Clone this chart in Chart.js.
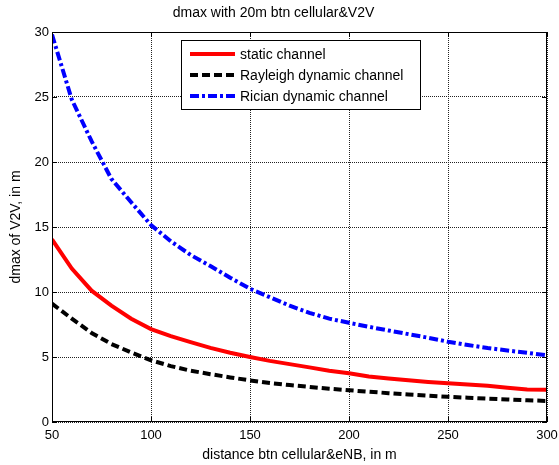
<!DOCTYPE html>
<html>
<head>
<meta charset="utf-8">
<script src="https://cdn.jsdelivr.net/npm/chart.js@4.4.0/dist/chart.umd.min.js"></script>
<style>
  html, body { margin: 0; padding: 0; background: #fff; }
  #wrap { width: 559px; height: 465px; }
</style>
</head>
<body>
<div id="wrap"><canvas id="c" width="559" height="465"></canvas></div>
<script>
// ---- data ----
const distances = [50, 60, 70, 80, 90, 100, 110, 120, 130, 140, 150, 160, 170, 180, 190, 200, 210, 220, 230, 240, 250, 260, 270, 280, 290, 300];
const staticChannel = [14.05, 11.8, 10.1, 8.95, 7.95, 7.15, 6.6, 6.15, 5.7, 5.33, 5.0, 4.7, 4.45, 4.2, 3.95, 3.75, 3.5, 3.34, 3.21, 3.08, 2.98, 2.88, 2.78, 2.63, 2.5, 2.48];
const rayleighChannel = [9.1, 7.95, 6.85, 6.0, 5.35, 4.75, 4.3, 3.95, 3.68, 3.43, 3.2, 3.0, 2.84, 2.7, 2.56, 2.44, 2.33, 2.22, 2.12, 2.03, 1.94, 1.87, 1.8, 1.73, 1.67, 1.62];
const ricianChannel = [29.8, 24.8, 21.6, 18.7, 16.9, 15.15, 13.9, 12.85, 12.0, 11.1, 10.25, 9.6, 8.95, 8.4, 7.95, 7.63, 7.32, 7.04, 6.76, 6.48, 6.18, 5.92, 5.69, 5.5, 5.32, 5.13];
const seriesNames = ['static channel', 'Rayleigh dynamic channel', 'Rician dynamic channel'];
const xTicks = [50, 100, 150, 200, 250, 300];
const yTicks = [0, 5, 10, 15, 20, 25, 30];
const titleText = 'dmax with 20m btn cellular&V2V';
const xTitle = 'distance btn cellular&eNB, in m';
const yTitle = 'dmax of V2V, in m';

const FONT = '"Liberation Sans", Arial, sans-serif';

function pts(ys) { return distances.map((x, i) => ({ x: x, y: ys[i] })); }

const styles = [
  { color: '#ff0000', dash: [] },
  { color: '#000000', dash: [8, 4] },
  { color: '#0000ff', dash: [9, 3, 3, 3] }
];

const boxPlugin = {
  id: 'matlabBox',
  afterDatasetsDraw(chart) {
    const { ctx, chartArea: a, scales } = chart;
    ctx.save();
    ctx.strokeStyle = '#000';
    ctx.lineWidth = 1;
    ctx.setLineDash([]);
    // inward ticks
    const tl = 5;
    ctx.beginPath();
    xTicks.forEach(v => {
      const px = Math.round(scales.x.getPixelForValue(v)) + 0.5;
      ctx.moveTo(px, a.bottom); ctx.lineTo(px, a.bottom - tl);
      ctx.moveTo(px, a.top); ctx.lineTo(px, a.top + tl);
    });
    yTicks.forEach(v => {
      const py = Math.round(scales.y.getPixelForValue(v)) + 0.5;
      ctx.moveTo(a.left, py); ctx.lineTo(a.left + tl, py);
      ctx.moveTo(a.right, py); ctx.lineTo(a.right - tl, py);
    });
    ctx.stroke();
    ctx.strokeRect(Math.round(a.left) + 0.5, Math.round(a.top) + 0.5, Math.round(a.right - a.left) - 1, Math.round(a.bottom - a.top) - 1);

    // legend
    const lx = 181.5, ly = 40.5, lw = 239, lh = 69;
    ctx.fillStyle = '#fff';
    ctx.fillRect(lx, ly, lw, lh);
    ctx.strokeStyle = '#000';
    ctx.lineWidth = 1;
    ctx.strokeRect(lx, ly, lw, lh);
    ctx.font = '14px ' + FONT;
    ctx.textBaseline = 'middle';
    ctx.textAlign = 'left';
    chart.data.datasets.forEach((ds, i) => {
      const y = 54 + i * 21;
      ctx.beginPath();
      ctx.strokeStyle = ds.borderColor;
      ctx.lineWidth = 4;
      ctx.setLineDash(ds.borderDash || []);
      ctx.moveTo(190, y);
      ctx.lineTo(235, y);
      ctx.stroke();
      ctx.setLineDash([]);
      ctx.fillStyle = '#000';
      ctx.fillText(ds.label, 240, y + 1);
    });
    ctx.restore();
  }
};

new Chart(document.getElementById('c'), {
  type: 'line',
  data: {
    datasets: [staticChannel, rayleighChannel, ricianChannel].map((ys, i) => ({
      label: seriesNames[i],
      data: pts(ys),
      borderColor: styles[i].color,
      backgroundColor: styles[i].color,
      borderDash: styles[i].dash,
      borderWidth: 4,
      pointRadius: 0,
      tension: 0,
      fill: false
    }))
  },
  options: {
    responsive: false,
    animation: false,
    devicePixelRatio: 1,
    layout: { padding: { left: 0, right: 12, top: 0, bottom: 0 } },
    plugins: {
      legend: { display: false },
      tooltip: { enabled: false },
      title: {
        display: true,
        text: titleText,
        color: '#000',
        font: { family: FONT, size: 14, weight: 'normal' },
        padding: { top: 4.6, bottom: 10.6 }
      }
    },
    scales: {
      x: {
        type: 'linear',
        min: 50, max: 300,
        afterBuildTicks(s) { s.ticks = xTicks.map(v => ({ value: v })); },
        afterFit(s) { s.height = 43; s.paddingLeft = 0; s.paddingRight = 0; },
        ticks: { color: '#000', font: { family: FONT, size: 13 }, padding: 6, maxRotation: 0, autoSkip: false },
        grid: { color: '#222', lineWidth: 1, drawTicks: false },
        border: { display: false, dash: [1, 1] },
        title: { display: true, text: xTitle, color: '#000', font: { family: FONT, size: 14 }, padding: { top: 0, bottom: 1.5 } }
      },
      y: {
        type: 'linear',
        min: 0, max: 30,
        afterBuildTicks(s) { s.ticks = yTicks.map(v => ({ value: v })); },
        afterFit(s) { s.width = 52; s.paddingTop = 0; s.paddingBottom = 0; },
        ticks: { color: '#000', font: { family: FONT, size: 13 }, padding: 3, autoSkip: false },
        grid: { color: '#222', lineWidth: 1, drawTicks: false },
        border: { display: false, dash: [1, 1] },
        title: { display: true, text: yTitle, color: '#000', font: { family: FONT, size: 14 }, padding: { top: 7.6, bottom: 0 } }
      }
    }
  },
  plugins: [boxPlugin]
});
</script>
</body>
</html>
